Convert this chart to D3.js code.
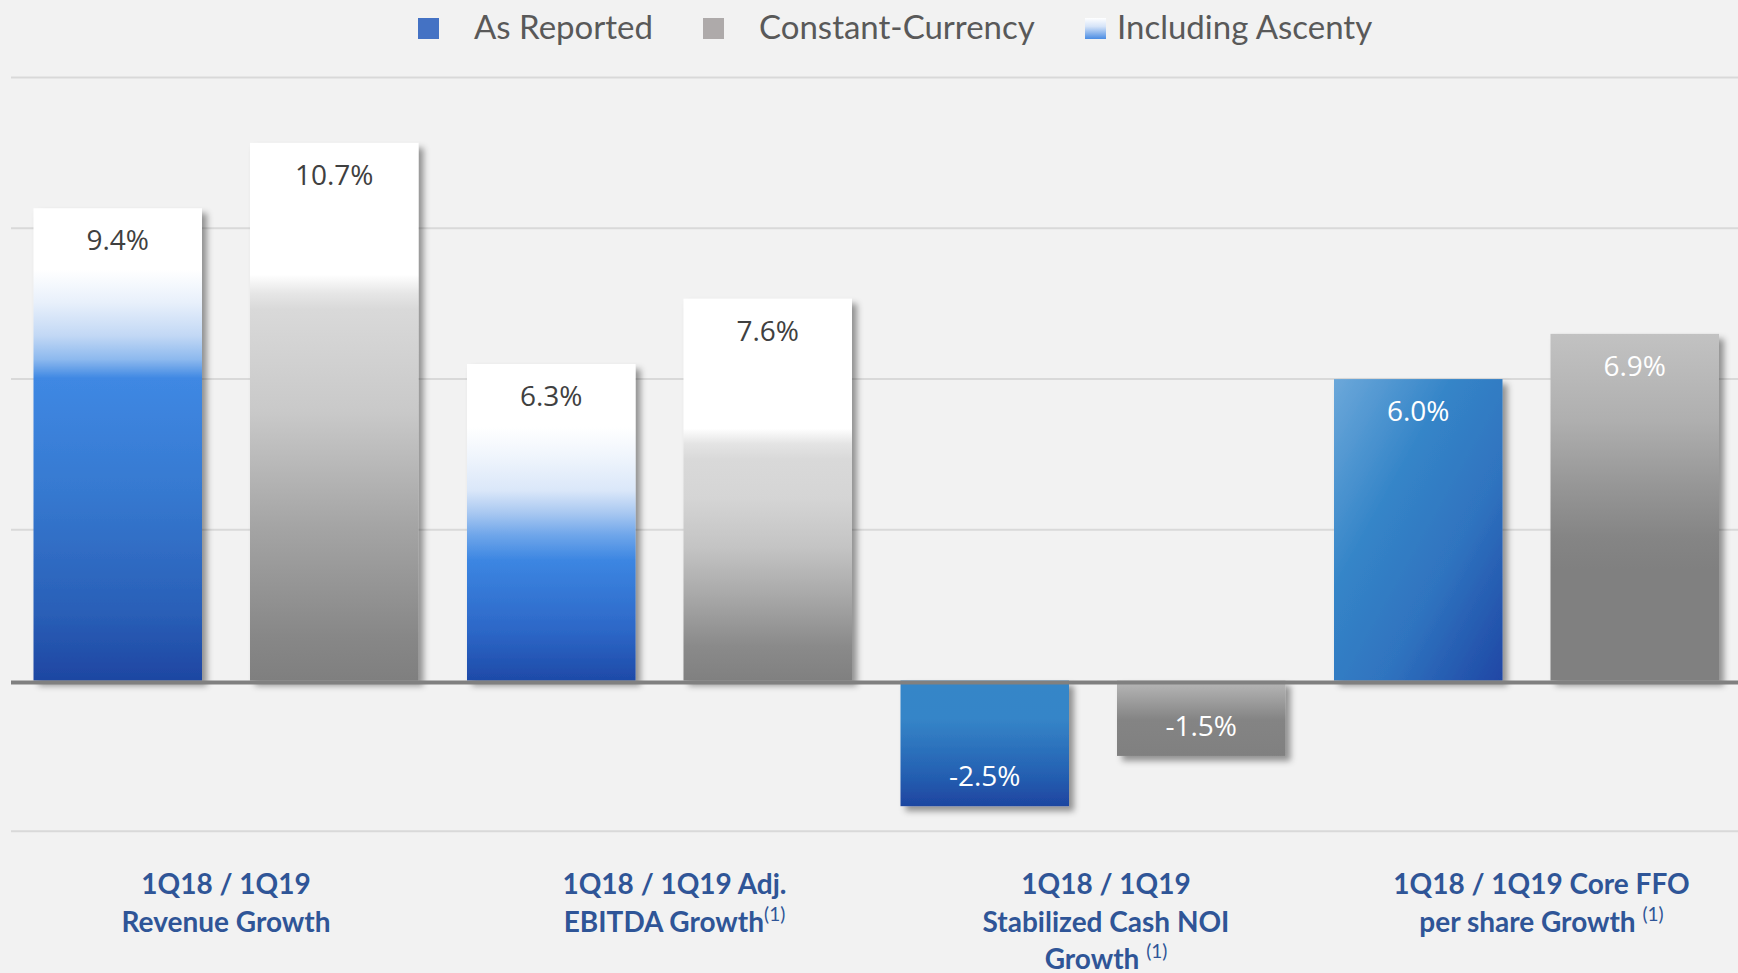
<!DOCTYPE html>
<html lang="en">
<head>
  <meta charset="UTF-8">
  <title>1Q18 / 1Q19 Growth</title>
  <script src="https://d3js.org/d3.v7.min.js"></script>
  <style>
    html, body { margin: 0; padding: 0; background: #f2f2f2; }
    svg { display: block; }
  </style>
</head>
<body>
  <svg id="chart" width="1738" height="973"></svg>
  <script>
    // chart values
    var categories = ["Revenue", "Adj. EBITDA", "Stabilized Cash NOI", "Core FFO"];
    var series = ["As Reported", "Constant-Currency"];
    var asReported = [9.4, 6.3, -2.5, 6.0];
    var constantCurrency = [10.7, 7.6, -1.5, 6.9];
    var includesAscenty = [true, true, false, false];
    var categoryLabels = [
      ["1Q18 / 1Q19", "Revenue Growth"],
      ["1Q18 / 1Q19 Adj.", "EBITDA Growth^(1)"],
      ["1Q18 / 1Q19", "Stabilized Cash NOI", "Growth ^(1)"],
      ["1Q18 / 1Q19 Core FFO", "per share Growth ^(1)"]
    ];
    var legendLabels = ["As Reported", "Constant-Currency", "Including Ascenty"];
    var yTicks = [-3, 0, 3, 6, 9, 12];

    var svg = d3.select("#chart"),
      width = +svg.attr("width"),
      height = +svg.attr("height");

    var x0 = d3.scaleBand().domain(categories).range([9.25, 1743.25]).padding(0);
    var x1 = d3.scaleBand().domain(series).range([0, x0.bandwidth()])
      .paddingInner(0.2217).paddingOuter(0.112);
    var y = d3.scaleLinear().domain([-3, 12]).range([831.3, 77.6]);

    var fmt = d3.formatLocale({ decimal: ".", thousands: ",", grouping: [3], currency: ["$", ""], minus: "-" }).format(".1f");

    // gradient stops per bar (series index - category index)
    var fills = {
      "0-0": { stops: [[0, "#fff"], [0.13, "#fff"], [0.2, "#e8f0fb"], [0.27, "#c2d8f5"], [0.32, "#8db9ee"], [0.36, "#3f88e3"], [0.6, "#3679d0"], [0.85, "#2a60b8"], [1, "#1e46a2"]] },
      "0-1": { stops: [[0, "#fff"], [0.2, "#fff"], [0.3, "#eef4fc"], [0.4, "#dae7f9"], [0.47, "#a9c8f1"], [0.54, "#6fa6ea"], [0.62, "#3c86e2"], [0.85, "#2c66c6"], [1, "#1e4aa8"]] },
      "1-0": { stops: [[0, "#fff"], [0.245, "#fff"], [0.28, "#e6e6e6"], [0.31, "#d9d9d9"], [0.5, "#c9c9c9"], [0.71, "#a5a5a5"], [0.92, "#878787"], [1, "#7f7f7f"]] },
      "1-1": { stops: [[0, "#fff"], [0.34, "#fff"], [0.38, "#e4e4e4"], [0.42, "#d9d9d9"], [0.52, "#d5d5d5"], [0.65, "#c4c4c4"], [0.78, "#a8a8a8"], [0.91, "#8a8a8a"], [1, "#808080"]] },
      "0-2": { stops: [[0, "#3686c8"], [0.3, "#3585c8"], [0.73, "#2562b3"], [1, "#1e45a0"]] },
      "1-2": { stops: [[0, "#b8b8b8"], [0.52, "#848484"], [1, "#808080"]] },
      "0-3": { diag: true, stops: [[0, "#6ca8da"], [0.35, "#3585c8"], [0.65, "#2f73bf"], [1, "#1f47a5"]] },
      "1-3": { stops: [[0, "#c2c2c2"], [0.25, "#afafaf"], [0.44, "#969696"], [0.585, "#858585"], [0.68, "#808080"], [1, "#808080"]] },
      "legend": { stops: [[0, "#fff"], [0.4, "#d6e4f8"], [1, "#4a8ce3"]] }
    };

    var defs = svg.append("defs");
    Object.keys(fills).forEach(function (k) {
      var f = fills[k];
      var lg = defs.append("linearGradient")
        .attr("id", "g" + k)
        .attr("x1", 0).attr("y1", 0)
        .attr("x2", f.diag ? 1 : 0).attr("y2", 1);
      lg.selectAll("stop").data(f.stops).enter().append("stop")
        .attr("offset", function (d) { return d[0]; })
        .attr("stop-color", function (d) { return d[1]; });
    });

    var filter = defs.append("filter").attr("id", "shadow")
      .attr("x", "-20%").attr("y", "-20%").attr("width", "150%").attr("height", "160%");
    filter.append("feDropShadow")
      .attr("dx", 5).attr("dy", 5).attr("stdDeviation", 3)
      .attr("flood-color", "#000").attr("flood-opacity", 0.4);

    svg.append("rect").attr("width", width).attr("height", height).attr("fill", "#f2f2f2");

    // gridlines
    svg.append("g")
      .selectAll("line")
      .data(yTicks.filter(function (d) { return d !== 0; }))
      .enter().append("line")
      .attr("x1", 11).attr("x2", width)
      .attr("y1", y).attr("y2", y)
      .attr("stroke", "#d9d9d9")
      .attr("stroke-width", 2);

    // bars
    var rows = categories.map(function (c, i) {
      return [
        { cat: c, ci: i, si: 0, value: asReported[i] },
        { cat: c, ci: i, si: 1, value: constantCurrency[i] }
      ];
    });

    var group = svg.append("g")
      .selectAll("g")
      .data(rows)
      .enter().append("g")
      .attr("transform", function (d, i) { return "translate(" + x0(categories[i]) + ",0)"; });

    group.selectAll("rect")
      .data(function (d) { return d; })
      .enter().append("rect")
      .attr("x", function (d) { return x1(series[d.si]); })
      .attr("y", function (d) { return y(Math.max(0, d.value)); })
      .attr("width", x1.bandwidth())
      .attr("height", function (d) { return Math.abs(y(d.value) - y(0)); })
      .attr("fill", function (d) { return "url(#g" + d.si + "-" + d.ci + ")"; })
      .attr("filter", "url(#shadow)");

    group.selectAll("text")
      .data(function (d) { return d; })
      .enter().append("text")
      .attr("x", function (d) { return x1(series[d.si]) + x1.bandwidth() / 2; })
      .attr("y", function (d) { return d.value >= 0 ? y(d.value) + 42 : y(d.value) - 20; })
      .attr("text-anchor", "middle")
      .attr("font-family", "'Open Sans', sans-serif")
      .attr("font-size", 28)
      .attr("fill", function (d) { return includesAscenty[d.ci] ? "#404040" : "#ffffff"; })
      .text(function (d) { return fmt(d.value) + "%"; });

    // zero line
    svg.append("line")
      .attr("x1", 11).attr("x2", width)
      .attr("y1", y(0) + 2).attr("y2", y(0) + 2)
      .attr("stroke", "#808080")
      .attr("stroke-width", 4);

    // category labels
    var labelShift = [0, 15, 13, 15];
    var cat = svg.append("g")
      .selectAll("text")
      .data(categoryLabels)
      .enter().append("text")
      .attr("text-anchor", "middle")
      .attr("font-family", "Lato, sans-serif")
      .attr("font-weight", "bold")
      .attr("font-size", 28)
      .attr("fill", "#2f5597");

    cat.each(function (lines, i) {
      var t = d3.select(this);
      var cx = x0(categories[i]) + x0.bandwidth() / 2 + labelShift[i];
      lines.forEach(function (line, j) {
        var parts = line.split("^");
        var ts = t.append("tspan").attr("x", cx).attr("y", 894 + j * 37.5).text(parts[0]);
        if (parts[1]) {
          t.append("tspan")
            .attr("font-size", 19)
            .attr("font-weight", "normal")
            .attr("dy", -11)
            .text(parts[1]);
        }
      });
    });

    // legend
    var legendPos = [[418, 474], [703, 759], [1085, 1117]];
    var legendFill = ["#4472c4", "#aeaaaa", "url(#glegend)"];
    var legend = svg.append("g")
      .selectAll("g")
      .data(legendLabels)
      .enter().append("g");

    legend.append("rect")
      .attr("x", function (d, i) { return legendPos[i][0]; })
      .attr("y", 18)
      .attr("width", 21)
      .attr("height", 21)
      .attr("fill", function (d, i) { return legendFill[i]; });

    legend.append("text")
      .attr("x", function (d, i) { return legendPos[i][1]; })
      .attr("y", 38.5)
      .attr("font-family", "Lato, sans-serif")
      .attr("font-size", 33)
      .attr("fill", "#595959")
      .text(function (d) { return d; });
  </script>
</body>
</html>
